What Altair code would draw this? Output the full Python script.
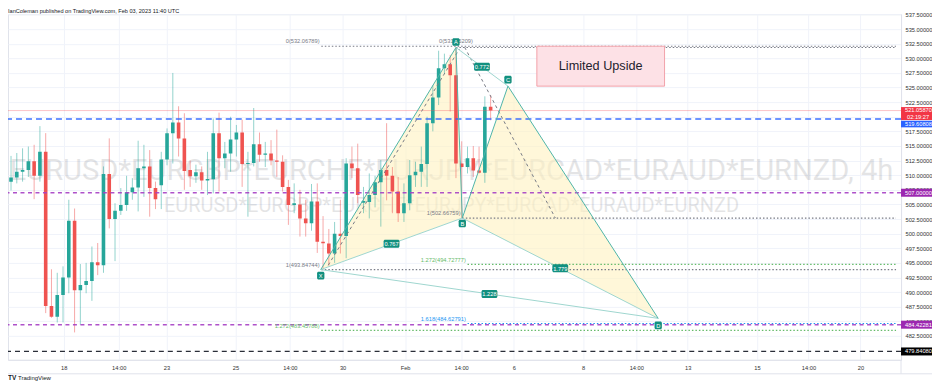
import altair as alt
import numpy as np
import pandas as pd

# ---------------- data ----------------
opens = [508.9, 509.6, 510.6, 510.9, 512.4, 509.9, 514.0, 487.6, 485.8, 489.5,
         492.5, 502.2, 490.3, 491.2, 491.9, 495.1, 494.6, 510.2, 502.5, 503.9,
         504.9, 507.1, 507.9, 511.2, 511.5, 507.8, 508.3, 512.7, 517.2, 519.0,
         516.3, 510.9, 509.8, 510.5, 509.1, 509.3, 517.2, 512.9, 513.7, 516.1,
         517.3, 511.9, 512.1, 515.3, 513.5, 513.7, 512.5, 512.3, 508.0, 504.9,
         505.0, 502.6, 501.8, 505.5, 498.6, 498.3, 496.6, 500.0, 499.6, 512.0,
         511.2, 505.3, 505.4, 506.6, 508.8, 510.9, 509.9, 507.2, 503.5, 505.2,
         510.0, 510.6, 511.9, 518.9, 523.3, 528.3, 529.0, 527.1, 512.0, 511.4,
         512.9, 510.8, 510.4, 521.7]
highs = [513.3, 513.8, 514.6, 514.9, 515.2, 518.4, 517.2, 493.9, 493.3, 494.4,
         505.8, 504.3, 494.8, 495.0, 497.8, 498.4, 511.5, 516.3, 505.2, 507.8,
         509.9, 509.5, 515.9, 515.2, 514.3, 508.9, 514.0, 518.0, 527.5, 521.8,
         520.6, 512.5, 511.8, 511.5, 514.0, 519.7, 520.7, 515.7, 520.0, 518.6,
         519.5, 514.0, 521.5, 517.3, 515.7, 516.0, 517.8, 513.4, 509.2, 508.6,
         507.5, 505.8, 508.5, 508.6, 503.0, 500.8, 502.0, 505.8, 512.9, 514.9,
         515.4, 508.0, 510.3, 509.9, 512.6, 518.9, 511.4, 509.7, 508.6, 512.6,
         512.3, 514.9, 520.0, 525.4, 531.3, 530.8, 530.6, 531.85, 515.8, 514.9,
         515.0, 514.9, 523.5, 523.7]
lows = [507.4, 508.6, 508.9, 509.7, 505.9, 508.9, 486.4, 485.6, 484.8, 484.8,
        489.8, 483.1, 484.4, 489.8, 488.5, 492.9, 493.3, 500.9, 495.3, 503.2,
        503.9, 505.8, 503.8, 506.3, 502.9, 504.2, 504.2, 511.7, 512.0, 513.2,
        507.5, 508.0, 508.7, 507.5, 506.6, 506.9, 507.2, 511.2, 510.6, 513.2,
        508.0, 502.9, 511.5, 512.3, 511.4, 511.7, 509.7, 507.2, 501.5, 503.5,
        499.5, 499.5, 500.5, 496.7, 493.85, 494.5, 495.0, 496.6, 495.8, 509.5,
        505.2, 503.5, 502.6, 504.5, 501.2, 505.7, 503.5, 502.0, 502.0, 504.0,
        508.0, 508.0, 508.0, 517.5, 522.0, 527.4, 520.9, 509.5, 502.67, 510.3,
        509.7, 510.3, 508.7, 519.4]
closes = [509.6, 510.6, 510.9, 512.4, 509.9, 514.0, 487.6, 485.8, 489.5, 492.5,
          502.2, 490.3, 491.2, 491.9, 495.1, 494.6, 510.2, 502.5, 503.9, 504.9,
          507.1, 507.9, 511.2, 511.5, 507.8, 505.9, 512.7, 517.2, 519.0, 516.3,
          510.7, 509.8, 510.5, 509.1, 509.35, 517.2, 512.9, 513.7, 516.1, 517.3,
          511.9, 512.1, 515.3, 513.5, 513.7, 512.5, 512.3, 508.0, 504.9, 505.2,
          502.6, 501.8, 505.5, 498.6, 498.35, 496.6, 500.0, 499.6, 512.0, 511.2,
          506.6, 505.6, 506.6, 508.8, 510.9, 509.9, 507.2, 503.5, 505.2, 510.0,
          510.6, 511.9, 518.9, 523.3, 528.3, 529.0, 527.1, 512.0, 511.4, 512.9,
          510.8, 510.4, 521.7, 521.06]

x_tick_pos = [9.11, 18.63, 26.89, 38.85, 48.26, 57.38, 68.2, 77.9, 87.0, 99.0,
              108.2, 117.1, 129.1, 138.0, 147.0]
x_tick_labels = ["18", "14:00", "23", "25", "14:00", "30", "Feb", "14:00", "6", "8",
                 "14:00", "13", "15", "14:00", "20"]
y_ticks = [482.5, 485.0, 487.5, 490.0, 492.5, 495.0, 497.5, 500.0, 502.5, 505.0,
           507.5, 510.0, 512.5, 515.0, 517.5, 520.0, 522.5, 525.0, 527.5, 530.0,
           532.5, 535.0, 537.5]

pattern_names = ["X", "A", "B", "C", "D"]
pattern_x = [53.6, 77.0, 78.1, 86.0, 112.0]
pattern_y = [493.84744, 531.85, 502.66759, 525.24, 485.5]

ratio_labels = ["0.767", "0.772", "1.779", "1.228"]
ratio_from = ["X", "A", "B", "X"]
ratio_to = ["B", "C", "D", "D"]

trend_x1 = [54.9, 78.5]
trend_y1 = [494.6, 531.9]
trend_x2 = [77.6, 94.2]
trend_y2 = [531.6, 502.67]

level_price = [532.06789, 531.85, 502.66759, 493.84744, 494.72777, 484.62791, 483.45788]
level_start = [53.7, 77.0, 78.1, 53.7, 79.0, 79.0, 53.7]
level_text = ["0(532.06789)", "0(531.85209)", "1(502.66759)", "1(493.84744)",
              "1.272(494.72777)", "1.618(484.62791)", "1.272(483.45788)"]
level_kind = ["gray", "gray", "gray", "gray", "green", "blue", "green"]

tag_price = [521.0587, 519.60808, 507.0, 484.42281, 479.8408]
tag_text = ["521.05870", "519.60808", "507.00000", "484.42281", "479.84080"]
tag_kind = ["red", "blue", "purple", "purple", "black"]
countdown_text = "02:19:27"

note_text = "Limited Upside"
note_x = [91.0, 113.1]
note_y = [525.24, 532.07]

symbol_text = "EURUSD*EURGBP*EURCHF*EURJPY*EURCAD*EURAUD*EURNZD"
header_text = "IanColeman published on TradingView.com, Feb 03, 2023 11:40 UTC"

# ---------------- geometry / style ----------------
W, H = 894, 346
XMIN, XMAX = 0.342, 153.16
YMIN, YMAX = 478.41, 537.55
PPX = W / (XMAX - XMIN)
PPY = H / (YMAX - YMIN)
FONT = "Liberation Sans"
SMALL = 5.7

labels_js = "[" + ",".join("'%s'" % l for l in x_tick_labels) + "]"
pos_js = "[" + ",".join(repr(p) for p in x_tick_pos) + "]"
xaxis = alt.Axis(values=x_tick_pos, labelExpr=f"{labels_js}[indexof({pos_js}, datum.value)]",
                 title=None, grid=True, gridColor="#f0f3fa", ticks=False, domainColor="#e0e3eb",
                 labelFontSize=SMALL, labelColor="#333333", labelPadding=5, labelFont=FONT,
                 labelOverlap=False, labelFlush=False)
yaxis = alt.Axis(orient="right", values=y_ticks, format=".5f", title=None, grid=True,
                 gridColor="#f0f3fa", ticks=False, domainColor="#e0e3eb", labelFontSize=SMALL,
                 labelColor="#333333", labelPadding=4, labelFont=FONT, labelOverlap=False,
                 labelFlush=False)
xs = alt.Scale(domain=[XMIN, XMAX], nice=False, zero=False)
ys = alt.Scale(domain=[YMIN, YMAX], nice=False, zero=False)


def X(f):
    return alt.X(f, type="quantitative", scale=xs, axis=xaxis)


def Y(f):
    return alt.Y(f, type="quantitative", scale=ys, axis=yaxis)


layers = []

# watermark (group coordinates: page y - 14, page x - 8)
wm = pd.DataFrame({"t": [symbol_text + ", 4h"]})
layers.append(alt.Chart(wm).mark_text(font="Roboto", fontSize=29.2, color="#131722", opacity=0.11,
                                      align="center", baseline="alphabetic")
              .encode(x=alt.value(444), y=alt.value(166), text="t:N"))
wm2 = pd.DataFrame({"t": [symbol_text]})
layers.append(alt.Chart(wm2).mark_text(font="Roboto", fontSize=20, color="#131722", opacity=0.11,
                                       align="center", baseline="alphabetic")
              .encode(x=alt.value(444), y=alt.value(198), text="t:N"))

# pattern fills
P = {n: (px, py) for n, px, py in zip(pattern_names, pattern_x, pattern_y)}


def interp(x, a, b):
    (x0, y0), (x1, y1) = P[a], P[b]
    return y0 + (x - x0) * (y1 - y0) / (x1 - x0)


tri_rows = []
for tri, (a, b, c) in enumerate([("X", "A", "B"), ("B", "C", "D")]):
    for n in (a, b, c):
        tri_rows.append({"tri": tri, "x": P[n][0], "top": P[n][1], "bot": interp(P[n][0], a, c)})
tri_df = pd.DataFrame(tri_rows)
layers.append(alt.Chart(tri_df).mark_area(color="#fff1bf", opacity=0.6, clip=True)
              .encode(x=X("x"), y=Y("top"), y2=alt.Y2("bot"), detail="tri:N"))

# candles
cdf = pd.DataFrame({"i": range(len(opens)), "o": opens, "h": highs, "l": lows, "c": closes})
cdf["dir"] = np.where(cdf.c >= cdf.o, "up", "down")
ccolor = alt.Color("dir:N", scale=alt.Scale(domain=["up", "down"], range=["#26a69a", "#ef5350"]),
                   legend=None)
layers.append(alt.Chart(cdf).mark_rule(strokeWidth=1, opacity=0.5, clip=True)
              .encode(x=X("i"), y=Y("l"), y2=alt.Y2("h"), color=ccolor))
layers.append(alt.Chart(cdf).mark_bar(width=3.6, clip=True)
              .encode(x=X("i"), y=Y("o"), y2=alt.Y2("c"), color=ccolor))

# full-width horizontal levels
full_styles = [
    (tag_price[0], "#f7525f", 1, None, 0.35),
    (tag_price[1], "#2962ff", 1.5, [6, 4], 0.9),
    (tag_price[2], "#a53fc4", 1.5, [4, 3.5], 0.9),
    (tag_price[3], "#a53fc4", 1.5, [4, 3.5], 0.9),
    (tag_price[4], "#131722", 1.3, [5, 4], 0.9),
]
for price, col, sw, dash, op in full_styles:
    kw = dict(color=col, strokeWidth=sw, opacity=op, clip=True)
    if dash:
        kw["strokeDash"] = dash
    layers.append(alt.Chart(pd.DataFrame({"p": [price]})).mark_rule(**kw).encode(y=Y("p")))

# dotted fib levels
lv = pd.DataFrame({"p": level_price, "s": level_start, "t": level_text, "k": level_kind})
lv["e"] = XMAX
kind_col = {"gray": "#787b86", "green": "#66bb6a", "blue": "#2196f3"}
for k, col in kind_col.items():
    sub = lv[lv.k == k]
    layers.append(alt.Chart(sub).mark_rule(color=col, strokeWidth=1.2, strokeDash=[1.5, 2],
                                           clip=True)
                  .encode(x=X("s"), x2=alt.X2("e"), y=Y("p")))
lv["lx"] = lv["s"] - 0.3
lv["ly"] = lv["p"] + 4.8 / PPY
for k, col in kind_col.items():
    sub = lv[(lv.k == k) & (lv.t != level_text[1])]
    layers.append(alt.Chart(sub).mark_text(color=col, fontSize=SMALL, font=FONT, align="right",
                                           baseline="middle")
                  .encode(x=X("lx"), y=Y("ly"), text="t:N"))
a_lab = lv[lv.t == level_text[1]].copy()
a_lab["ly"] = a_lab["p"] + 7 / PPY
layers.append(alt.Chart(a_lab).mark_text(color="#787b86", fontSize=SMALL, font=FONT,
                                         align="center", baseline="middle")
              .encode(x=X("s"), y=Y("ly"), text="t:N"))

# gray dashed trend lines
tdf = pd.DataFrame({"x1": trend_x1, "y1": trend_y1, "x2": trend_x2, "y2": trend_y2})
layers.append(alt.Chart(tdf).mark_rule(color="#787b86", strokeWidth=1, strokeDash=[3, 3], clip=True)
              .encode(x=X("x1"), y=Y("y1"), x2=alt.X2("x2"), y2=alt.Y2("y2")))


def segs(pairs):
    return pd.DataFrame({"x1": [P[a][0] for a, b in pairs], "y1": [P[a][1] for a, b in pairs],
                         "x2": [P[b][0] for a, b in pairs], "y2": [P[b][1] for a, b in pairs]})


light = segs(list(zip(ratio_from, ratio_to)))
main = segs([("X", "A"), ("A", "B"), ("B", "C"), ("C", "D")])
layers.append(alt.Chart(light).mark_rule(color="#9fd6cf", strokeWidth=1, clip=True)
              .encode(x=X("x1"), y=Y("y1"), x2=alt.X2("x2"), y2=alt.Y2("y2")))
layers.append(alt.Chart(main).mark_rule(color="#4fb5a8", strokeWidth=1, clip=True)
              .encode(x=X("x1"), y=Y("y1"), x2=alt.X2("x2"), y2=alt.Y2("y2")))

# ratio label boxes and letter boxes
rdf = pd.DataFrame({"t": ratio_labels,
                    "cx": [(P[a][0] + P[b][0]) / 2 for a, b in zip(ratio_from, ratio_to)],
                    "cy": [(P[a][1] + P[b][1]) / 2 for a, b in zip(ratio_from, ratio_to)]})
letter_dy = {"X": 6, "A": -5.5, "B": 5.5, "C": -6.5, "D": 7}
ldf = pd.DataFrame({"t": pattern_names, "cx": pattern_x,
                    "cy": [py - letter_dy[n] / PPY for n, py in zip(pattern_names, pattern_y)]})
for df_, hw, hh in ((rdf, 8, 4), (ldf, 3.7, 3.8)):
    df_ = df_.copy()
    df_["x1"] = df_.cx - hw / PPX
    df_["x2"] = df_.cx + hw / PPX
    df_["y1"] = df_.cy - hh / PPY
    df_["y2"] = df_.cy + hh / PPY
    layers.append(alt.Chart(df_).mark_rect(color="#12907f", cornerRadius=1.5)
                  .encode(x=X("x1"), x2=alt.X2("x2"), y=Y("y1"), y2=alt.Y2("y2")))
    layers.append(alt.Chart(df_).mark_text(color="white", fontSize=SMALL, font=FONT,
                                           baseline="middle", dy=0.3)
                  .encode(x=X("cx"), y=Y("cy"), text="t:N"))

# note box
ndf = pd.DataFrame({"x1": [note_x[0]], "x2": [note_x[1]], "y1": [note_y[0]], "y2": [note_y[1]],
                    "t": [note_text], "cx": [sum(note_x) / 2], "cy": [sum(note_y) / 2]})
layers.append(alt.Chart(ndf).mark_rect(fill="#fde1e6", stroke="#f2a2aa", strokeWidth=1)
              .encode(x=X("x1"), x2=alt.X2("x2"), y=Y("y1"), y2=alt.Y2("y2")))
layers.append(alt.Chart(ndf).mark_text(fontSize=12.7, font=FONT, color="#1e222d", baseline="middle")
              .encode(x=X("cx"), y=Y("cy"), text="t:N"))

# price tags on the right scale (one layer per colour, fixed fill)
tag_box = {"red": (3.5, 9.5, -0.6), "blue": (-1.7, 8.3, 5.2), "purple": (4, 4, 0),
           "black": (4, 4, 0)}
tag_fill = {"red": "#f23645", "blue": "#2962ff", "purple": "#9c27b0", "black": "#000000"}
trows = []
for p, t, k in zip(tag_price, tag_text, tag_kind):
    up, down, tdy = tag_box[k]
    trows.append({"top": p + up / PPY, "bot": p - down / PPY, "ty": p - tdy / PPY, "t": t, "k": k})
tg = pd.DataFrame(trows)
for k, fill in tag_fill.items():
    sub = tg[tg.k == k]
    layers.append(alt.Chart(sub).mark_rect(color=fill)
                  .encode(x=alt.value(894), x2=alt.value(925), y=Y("top"), y2=alt.Y2("bot")))
layers.append(alt.Chart(tg).mark_text(color="white", fontSize=SMALL, font=FONT, align="left",
                                      baseline="middle")
              .encode(x=alt.value(898), y=Y("ty"), text="t:N"))
cd = pd.DataFrame({"t": [countdown_text], "p": [tag_price[0] - 6.4 / PPY]})
layers.append(alt.Chart(cd).mark_text(color="white", fontSize=SMALL, font=FONT, align="left",
                                      baseline="middle")
              .encode(x=alt.value(900), y=Y("p"), text="t:N"))

# frame pieces below the plot
frame = pd.DataFrame({"a": [0]})
layers.append(alt.Chart(frame).mark_rule(color="#e0e3eb", strokeWidth=1)
              .encode(x=alt.value(894), y=alt.value(346), y2=alt.value(360)))
layers.append(alt.Chart(frame).mark_rule(color="#e0e3eb", strokeWidth=1)
              .encode(x=alt.value(0), x2=alt.value(925), y=alt.value(360)))

# header and footer
hd = pd.DataFrame({"t": [header_text]})
layers.append(alt.Chart(hd).mark_text(fontSize=5.6, font=FONT, color="#131722", align="left",
                                      baseline="alphabetic")
              .encode(x=alt.value(0), y=alt.value(-1.3), text="t:N"))
ft = pd.DataFrame({"t": ["TV"]})
layers.append(alt.Chart(ft).mark_text(fontSize=6.5, font=FONT, fontWeight="bold", color="#131722",
                                      align="left", baseline="alphabetic")
              .encode(x=alt.value(0), y=alt.value(366), text="t:N"))
ft2 = pd.DataFrame({"t": ["TradingView"]})
layers.append(alt.Chart(ft2).mark_text(fontSize=6, font=FONT, color="#131722", align="left",
                                       baseline="alphabetic")
              .encode(x=alt.value(10), y=alt.value(366), text="t:N"))

chart = (alt.layer(*layers)
         .properties(width=W, height=H, autosize=alt.AutoSizeParams(type="none"),
                     padding={"left": 0, "top": 6, "right": 31, "bottom": 22},
                     background="white")
         .configure_view(stroke="#e0e3eb"))

chart.save("out.html", embed_options={"renderer": "svg", "actions": False})
